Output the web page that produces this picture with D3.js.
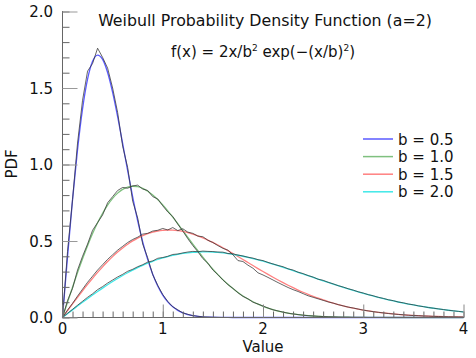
<!DOCTYPE html>
<html><head><meta charset="utf-8">
<script src="https://cdn.jsdelivr.net/npm/d3@7"></script>
<style>
html,body{margin:0;padding:0;background:#fff;}
svg text{font-family:"DejaVu Sans",sans-serif;fill:#111;}
</style></head>
<body><svg id="c" width="476" height="358"></svg>
<script>
// ---------- data ----------
const xStep = 0.05;           // sample spacing along Value
const seriesNames = ["b = 0.5","b = 1.0","b = 1.5","b = 2.0"];
const seriesColors = ["#5a5aff","#7fc07f","#ff8080","#40e8e8"];
const xTicks = [0,1,2,3,4];
const yTicks = [0.0,0.5,1.0,1.5,2.0];

// smooth density curves
const theo05 = [0,.3960,.7686,1.0967,1.3634,1.5576,1.6744,1.7154,1.6873,1.6015,
1.4715,1.3121,1.1373,.9595,.7888,.6324,.4947,.3779,.2820,.2056,
.1465,.1021,.0696,.0464,.0302,.0193,.0121,.0074,.0044,.0026,
.0015,.0008,.0004,.0002,.0001,0,0,0,0,0,
0,0,0,0,0,0,0,0,0,0, 0,0,0,0,0,0,0,0,0,0, 0,0,0,0,0,0,0,0,0,0, 0,0,0,0,0,0,0,0,0,0, 0];
const theo10 = [0,.0998,.1980,.2933,.3843,.4697,.5484,.6193,.6817,.7350,
.7788,.8129,.8372,.8520,.8577,.8547,.8437,.8254,.8007,.7705,
.7358,.6973,.6560,.6129,.5686,.5240,.4797,.4364,.3944,.3542,
.3162,.2805,.2474,.2168,.1890,.1637,.1410,.1207,.1028,.0870,
.0733,.0613,.0511,.0423,.0348,.0285,.0232,.0188,.0151,.0121,
.0097,.0077,.0060,.0047,.0037,.0029,.0022,.0017,.0013,.0010,
.0007,.0005,.0004,.0003,.0002,.0001,.0001,0,0,0,
0,0,0,0,0,0,0,0,0,0, 0];
const theo15 = [0,.0444,.0885,.1320,.1746,.2161,.2562,.2946,.3312,.3656,
.3977,.4274,.4545,.4789,.5005,.5192,.5351,.5480,.5581,.5654,
.5699,.5718,.5711,.5679,.5624,.5548,.5453,.5338,.5208,.5063,
.4905,.4736,.4559,.4374,.4183,.3988,.3791,.3593,.3395,.3198,
.3005,.2815,.2629,.2449,.2275,.2108,.1948,.1795,.1649,.1511,
.1382,.1260,.1146,.1039,.0940,.0848,.0764,.0685,.0614,.0548,
.0488,.0434,.0385,.0340,.0300,.0264,.0232,.0203,.0177,.0155,
.0134,.0117,.0101,.0087,.0075,.0064,.0055,.0047,.0040,.0034,
.0029];
const theo20 = [0,.0250,.0499,.0746,.0990,.1231,.1467,.1697,.1922,.2139,
.2349,.2550,.2742,.2924,.3096,.3258,.3409,.3548,.3675,.3791,
.3894,.3985,.4064,.4131,.4186,.4229,.4260,.4280,.4288,.4286,
.4273,.4251,.4218,.4177,.4127,.4069,.4004,.3931,.3853,.3768,
.3679,.3585,.3486,.3385,.3280,.3173,.3064,.2954,.2843,.2732,
.2620,.2509,.2399,.2290,.2182,.2076,.1972,.1870,.1771,.1675,
.1581,.1490,.1403,.1318,.1237,.1159,.1084,.1013,.0945,.0880,
.0818,.0760,.0705,.0653,.0604,.0557,.0514,.0473,.0435,.0400,
.0366];

// sampled (noisy) densities
const emp05 = [0,.43,.77,1.14,1.42,1.61,1.66,1.76,1.70,1.63,
1.50,1.34,1.12,.98,.76,.65,.48,.39,.28,.21,
.15,.105,.07,.05,.03,.021,.012,.008,.004,.003,
.001,.001,0,0,0,0,0,0,0,0,
0,0,0,0,0,0,0,0,0,0, 0,0,0,0,0,0,0,0,0,0, 0,0,0,0,0,0,0,0,0,0, 0,0,0,0,0,0,0,0,0,0, 0];
const emp10 = [0,.11,.19,.31,.40,.48,.57,.62,.67,.75,
.79,.83,.85,.845,.86,.865,.84,.83,.79,.775,
.73,.69,.66,.61,.565,.515,.47,.43,.385,.355,
.31,.28,.245,.215,.19,.162,.138,.122,.10,.088,
.075,.062,.05,.043,.035,.028,.023,.019,.015,.012,
.010,.008,.006,.005,.004,.003,.002,.002,.001,.001,
.001,0,0,0,0,0,0,0,0,0,
0,0,0,0,0,0,0,0,0,0, 0];
const emp15 = [0,.048,.092,.14,.185,.23,.27,.31,.345,.38,
.41,.44,.465,.49,.51,.525,.545,.55,.565,.57,
.582,.572,.588,.568,.58,.558,.55,.532,.528,.505,
.49,.47,.452,.44,.41,.372,.366,.342,.322,.292,
.278,.262,.245,.228,.212,.196,.182,.17,.156,.142,
.132,.122,.112,.102,.094,.084,.076,.068,.062,.055,
.048,.043,.038,.034,.030,.026,.023,.020,.018,.015,
.013,.012,.010,.009,.0075,.0065,.0055,.0047,.004,.0035,
.003];
const emp20 = [0,.027,.053,.080,.106,.132,.155,.182,.202,.225,
.245,.265,.282,.302,.315,.332,.345,.362,.37,.387,
.392,.40,.412,.415,.422,.428,.432,.43,.434,.432,
.431,.428,.427,.418,.416,.408,.402,.394,.388,.378,
.372,.36,.35,.34,.332,.318,.31,.296,.287,.274,
.264,.25,.243,.23,.22,.208,.199,.188,.179,.168,
.16,.149,.142,.132,.125,.116,.11,.101,.096,.088,
.083,.076,.071,.065,.061,.056,.052,.047,.044,.040,
.036];

const theoSeries = [theo05,theo10,theo15,theo20];
const empSeries = [emp05,emp10,emp15,emp20];

// ---------- chart ----------
const svg = d3.select("#c");
svg.append("rect").attr("width",476).attr("height",358).attr("fill","#fff");

const x = d3.scaleLinear().domain([0,4]).range([62.5,463.5]);
const y = d3.scaleLinear().domain([0,2]).range([317.5,11.5]);

const line = d3.line().x((d,i)=>x(i*xStep)).y(d=>y(d)).curve(d3.curveMonotoneX);
const rawLine = d3.line().x((d,i)=>x(i*xStep)).y(d=>y(d));

const plot = svg.append("g");
theoSeries.forEach((s,k)=>{
  plot.append("path").attr("d",line(s)).attr("fill","none")
    .attr("stroke",seriesColors[k]).attr("stroke-width",1.3);
});
empSeries.forEach((s,k)=>{
  plot.append("path").attr("d",rawLine(s)).attr("fill","none")
    .attr("stroke","#333").attr("stroke-opacity",0.75).attr("stroke-width",1);
});

// axes
const yMinor = d3.range(0,2.0001,0.1);
const xMinor = d3.range(0,4.0001,0.1);
const ax = svg.append("g");
ax.append("line").attr("x1",62.5).attr("x2",62.5).attr("y1",11).attr("y2",317.5).attr("stroke","#666");
ax.append("line").attr("x1",62).attr("x2",463.5).attr("y1",317.5).attr("y2",317.5).attr("stroke","#666");
const yAxis = d3.axisRight(y).tickValues(yMinor).tickSize(7).tickFormat("");
ax.append("g").attr("transform","translate(62.5,0)").call(yAxis)
  .call(g=>{g.select(".domain").remove();g.selectAll("line").attr("stroke","#666");});
const yMajor = d3.axisRight(y).tickValues(yTicks).tickSize(15).tickFormat("");
ax.append("g").attr("transform","translate(62.5,0)").call(yMajor)
  .call(g=>{g.select(".domain").remove();g.selectAll("line").attr("stroke","#999");});
const xAxis = d3.axisTop(x).tickValues(xMinor).tickSize(6).tickFormat("");
ax.append("g").attr("transform","translate(0,317.5)").call(xAxis)
  .call(g=>{g.select(".domain").remove();g.selectAll("line").attr("stroke","#666");});
const xMajor = d3.axisTop(x).tickValues(xTicks).tickSize(13).tickFormat("");
ax.append("g").attr("transform","translate(0,317.5)").call(xMajor)
  .call(g=>{g.select(".domain").remove();g.selectAll("line").attr("stroke","#888");});

// tick labels
svg.append("g").selectAll("text").data(yTicks).join("text")
  .attr("x",53).attr("y",d=>y(d)+5.5).attr("text-anchor","end")
  .attr("font-size",15).text(d=>d.toFixed(1));
svg.append("g").selectAll("text").data(xTicks).join("text")
  .attr("x",d=>x(d)).attr("y",334).attr("text-anchor","middle")
  .attr("font-size",15).text(d=>d);

svg.append("text").attr("x",263).attr("y",352).attr("text-anchor","middle")
  .attr("font-size",15).text("Value");
svg.append("text").attr("transform","translate(17,164) rotate(-90)")
  .attr("text-anchor","middle").attr("font-size",15).text("PDF");

// titles
svg.append("text").attr("x",265).attr("y",26).attr("text-anchor","middle")
  .attr("font-size",15.8).text("Weibull Probability Density Function (a=2)");
const f = svg.append("text").attr("x",263).attr("y",57).attr("text-anchor","middle").attr("font-size",15);
f.append("tspan").text("f(x) = 2x/b");
f.append("tspan").attr("dy",-6).attr("font-size",9).text("2");
f.append("tspan").attr("dy",6).text(" exp(\u2212(x/b)");
f.append("tspan").attr("dy",-6).attr("font-size",9).text("2");
f.append("tspan").attr("dy",6).text(")");

// legend
const leg = svg.append("g");
seriesNames.forEach((n,k)=>{
  const yy = 139 + k*17.6;
  leg.append("line").attr("x1",363).attr("x2",393).attr("y1",yy).attr("y2",yy)
    .attr("stroke",seriesColors[k]).attr("stroke-width",1.5);
  leg.append("text").attr("x",398).attr("y",yy+5.5).attr("font-size",15).text(n);
});
</script></body></html>
